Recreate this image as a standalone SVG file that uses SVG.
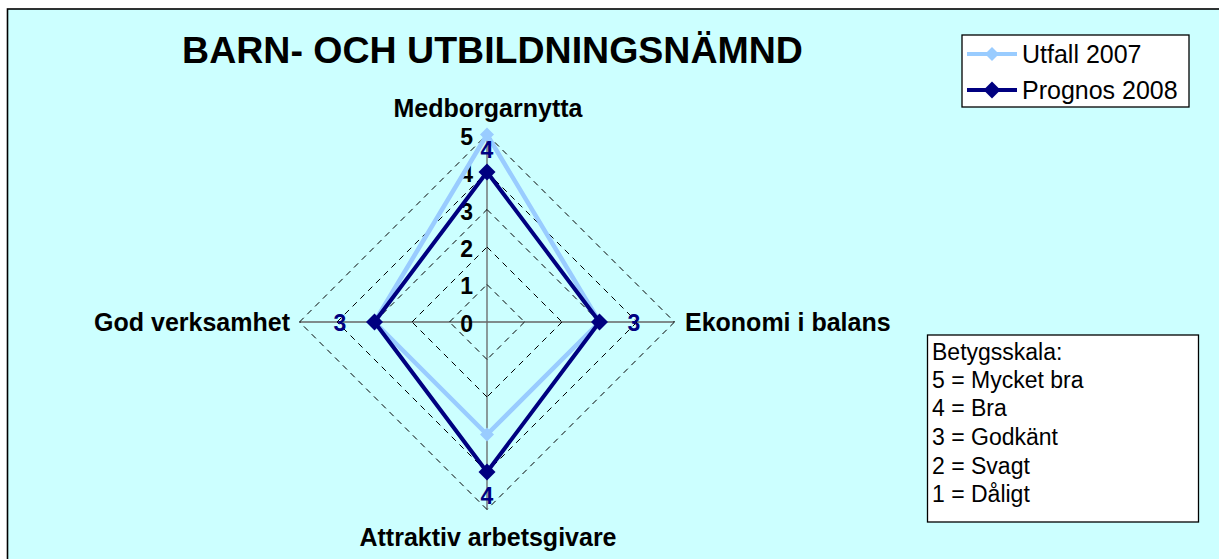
<svg xmlns="http://www.w3.org/2000/svg" width="1219" height="559" viewBox="0 0 1219 559">
<style>
text{font-family:"Liberation Sans",Arial,sans-serif}
.t{font-size:37.5px;font-weight:bold;fill:#000}
.ax{font-size:25px;font-weight:bold;fill:#000}
.num{font-size:23px;font-weight:bold;fill:#000;text-anchor:end}
.dl{font-size:23px;font-weight:bold;fill:#000080;text-anchor:middle}
.lg{font-size:25px;fill:#000}
.bs{font-size:23px;fill:#000}
.grid{fill:none;stroke:#000;stroke-width:1;stroke-dasharray:6,5}
.axis{stroke:#666;stroke-width:1.3;fill:none}
.s1{fill:none;stroke:#99CCFF;stroke-width:4.5;stroke-linejoin:round}
.s2{fill:none;stroke:#000080;stroke-width:4;stroke-linejoin:round}
.m1{fill:#99CCFF}
.m2{fill:#000080}
</style>
<defs>
<path id="d1" d="M0,-7 L7,0 L0,7 L-7,0 Z" class="m1"/>
<path id="d2" d="M0,-8.5 L8.5,0 L0,8.5 L-8.5,0 Z" class="m2"/>
</defs>
<rect x="0" y="0" width="1219" height="559" fill="#fff"/>
<rect x="7.5" y="9" width="1215" height="560" fill="#CCFFFF" stroke="#000" stroke-width="1.6"/>
<text class="t" x="492.5" y="63" text-anchor="middle">BARN- OCH UTBILDNINGSNÄMND</text>
<g id="grid">
<path class="axis" d="M487,134.5 V509.5 M299.5,322 H674.5"/>
<g class="grid">
<path d="M487,284.5 L524.5,322 M524.5,322 L487,359.5 M487,359.5 L449.5,322 M449.5,322 L487,284.5"/>
<path d="M487,247 L562,322 M562,322 L487,397 M487,397 L412,322 M412,322 L487,247"/>
<path d="M487,209.5 L599.5,322 M599.5,322 L487,434.5 M487,434.5 L374.5,322 M374.5,322 L487,209.5"/>
<path d="M487,172 L637,322 M637,322 L487,472 M487,472 L337,322 M337,322 L487,172"/>
<path d="M487,134.5 L674.5,322 M674.5,322 L487,509.5 M487,509.5 L299.5,322 M299.5,322 L487,134.5"/>
</g>
</g>
<g id="scale">
<text class="num" x="473" y="145">5</text>
<text class="num" x="473" y="182.3">4</text>
<text class="num" x="473" y="219.6">3</text>
<text class="num" x="473" y="256.9">2</text>
<text class="num" x="473" y="294.2">1</text>
<text class="num" x="473" y="331.5">0</text>
</g>
<g id="axis-labels">
<text id="medborgarnytta" class="ax" x="488" y="117" text-anchor="middle">Medborgarnytta</text>
<text id="ekonomi" class="ax" x="685" y="331" text-anchor="start">Ekonomi i balans</text>
<text id="attraktiv" class="ax" x="488" y="546" text-anchor="middle">Attraktiv arbetsgivare</text>
<text id="god" class="ax" x="290" y="331" text-anchor="end">God verksamhet</text>
</g>
<g id="connectors">
<path id="utfall-2007" class="s1" d="M487,134.5 L599.5,322 L487,434.5 L374.5,322 Z"/>
<use href="#d1" x="487" y="134.5"/><use href="#d1" x="599.5" y="322"/><use href="#d1" x="487" y="434.5"/><use href="#d1" x="374.5" y="322"/>
<path id="prognos-2008" class="s2" d="M487,172 L599.5,322 L487,472 L374.5,322 Z"/>
<use href="#d2" x="487" y="172"/><use href="#d2" x="599.5" y="322"/><use href="#d2" x="487" y="472"/><use href="#d2" x="374.5" y="322"/>
</g>
<g id="data-labels">
<text class="dl" x="487" y="158">4</text>
<text class="dl" x="634" y="331">3</text>
<text class="dl" x="340" y="331">3</text>
<text class="dl" x="487" y="504">4</text>
</g>
<g id="legend">
<rect x="962" y="35" width="227" height="72" fill="#fff" stroke="#000" stroke-width="1.3"/>
<line x1="967" y1="54" x2="1017" y2="54" stroke="#99CCFF" stroke-width="4"/>
<use href="#d1" x="992" y="54"/>
<text class="lg" x="1022" y="63">Utfall 2007</text>
<line x1="967" y1="90" x2="1017" y2="90" stroke="#000080" stroke-width="4"/>
<use href="#d2" x="992" y="90"/>
<text class="lg" x="1022" y="99">Prognos 2008</text>
</g>
<g id="betygsskala">
<rect x="927.5" y="335" width="271" height="187" fill="#fff" stroke="#000" stroke-width="1.3"/>
<text class="bs" x="932" y="360">Betygsskala:</text>
<text class="bs" x="932" y="388">5 = Mycket bra</text>
<text class="bs" x="932" y="416">4 = Bra</text>
<text class="bs" x="932" y="445">3 = Godkänt</text>
<text class="bs" x="932" y="474">2 = Svagt</text>
<text class="bs" x="932" y="502">1 = Dåligt</text>
</g>
</svg>
